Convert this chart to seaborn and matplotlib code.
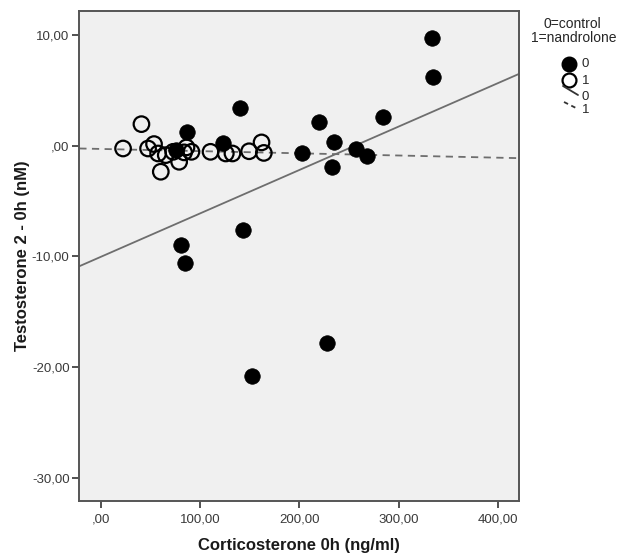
import numpy as np
import pandas as pd
import matplotlib
matplotlib.use("Agg")
import matplotlib.pyplot as plt
from matplotlib.lines import Line2D
from matplotlib.ticker import FixedLocator, FuncFormatter
import seaborn as sns

# Group 0 = control (filled), group 1 = nandrolone (open)
cort_control = [333.7, 334.7, 284.0, 220.0, 235.0, 257.0, 268.5, 202.3, 233.0,
                140.0, 143.0, 81.3, 84.7, 87.0, 123.0, 76.3, 152.0, 228.0]
testo_control = [9.7, 6.2, 2.6, 2.15, 0.35, -0.3, -0.95, -0.7, -1.9,
                 3.4, -7.6, -9.0, -10.6, 1.25, 0.25, -0.35, -20.8, -17.8]

cort_nandro = [22.5, 41.0, 47.7, 53.7, 57.8, 65.5, 60.5, 79.0, 86.4, 91.4,
               84.0, 110.6, 126.0, 132.7, 149.5, 162.0, 164.3, 73.0]
testo_nandro = [-0.25, 1.95, -0.25, 0.15, -0.7, -0.85, -2.35, -1.45, -0.15, -0.55,
                -0.6, -0.55, -0.7, -0.7, -0.5, 0.3, -0.65, -0.55]

x_ticks = [0, 100, 200, 300, 400]
y_ticks = [10, 0, -10, -20, -30]

df = pd.DataFrame({
    "cort": cort_control + cort_nandro,
    "testo": testo_control + testo_nandro,
    "group": [0] * len(cort_control) + [1] * len(cort_nandro),
})

sns.set_style("white")
plt.rcParams["font.family"] = ["Liberation Sans", "DejaVu Sans"]

W, H = 619, 553
fig = plt.figure(figsize=(W / 100, H / 100), dpi=100)
ax = fig.add_axes([79.3 / W, 1 - 501 / H, 440 / W, 490.3 / H])
ax.set_facecolor("#f0f0f0")
ax.set_xlim(-21.6, 421.7)
ax.set_ylim(-32.1, 12.2)

g0 = df[df.group == 0]
g1 = df[df.group == 1]

# fit lines per group, spanning the full axis width
sns.regplot(data=g0, x="cort", y="testo", scatter=False, ci=None, truncate=False,
            ax=ax, line_kws=dict(color="#6e6e6e", lw=1.3, zorder=1))
sns.regplot(data=g1, x="cort", y="testo", scatter=False, ci=None, truncate=False,
            ax=ax, line_kws=dict(color="#6e6e6e", lw=1.3, ls=(0, (4, 3)), zorder=1))

sns.scatterplot(data=g1, x="cort", y="testo", ax=ax, s=125, marker="o",
                facecolor="none", edgecolor="black", linewidth=1.6, zorder=3)
sns.scatterplot(data=g0, x="cort", y="testo", ax=ax, s=125, marker="o",
                color="black", edgecolor="black", linewidth=0.5, zorder=4)

ax.set_xlim(-21.6, 421.7)
ax.set_ylim(-32.1, 12.2)


def fmt(v, _pos):
    s = f"{v:.2f}".replace(".", ",")
    if s.startswith("0,"):
        s = s[1:]
    return s


ax.xaxis.set_major_locator(FixedLocator(x_ticks))
ax.yaxis.set_major_locator(FixedLocator(y_ticks))
ax.xaxis.set_major_formatter(FuncFormatter(fmt))
ax.yaxis.set_major_formatter(FuncFormatter(fmt))
ax.tick_params(axis="both", which="major", direction="out", length=5, width=1.2,
               color="#333333", labelsize=9.5, labelcolor="#3a3a3a", pad=2,
               bottom=True, left=True)
ax.tick_params(axis="x", pad=4)
for sp in ax.spines.values():
    sp.set_color("#555555")
    sp.set_linewidth(1.4)

ax.set_xlabel("Corticosterone 0h (ng/ml)", fontsize=12, fontweight="bold",
              labelpad=9, color="#1a1a1a")
ax.set_ylabel("Testosterone 2 - 0h (nM)", fontsize=12, fontweight="bold",
              color="#1a1a1a")
ax.yaxis.set_label_coords(-0.112, 0.5)

# legend outside the axes on the right
fig.text(572 / W, 1 - 24 / H, "0=control", ha="center", va="center", fontsize=10)
fig.text(574 / W, 1 - 38 / H, "1=nandrolone", ha="center", va="center", fontsize=10)
fig.add_artist(Line2D([569 / W], [1 - 64 / H], marker="o", ms=10.5, color="black",
                      mfc="black", ls="none", transform=fig.transFigure))
fig.add_artist(Line2D([569 / W], [1 - 80 / H], marker="o", ms=10, color="black",
                      mfc="none", mew=1.6, ls="none", transform=fig.transFigure))
fig.add_artist(Line2D([563 / W, 578 / W], [1 - 86 / H, 1 - 95 / H], color="#333333",
                      lw=1.3, transform=fig.transFigure))
fig.add_artist(Line2D([564 / W, 578 / W], [1 - 102 / H, 1 - 109 / H], color="#333333",
                      lw=1.3, ls=(0, (2.5, 2)), transform=fig.transFigure))
for yy, lab in [(64, "0"), (81, "1"), (97, "0"), (110, "1")]:
    fig.text(582 / W, 1 - yy / H, lab, ha="left", va="center", fontsize=9.5)

fig.savefig("out.png", dpi=100)
